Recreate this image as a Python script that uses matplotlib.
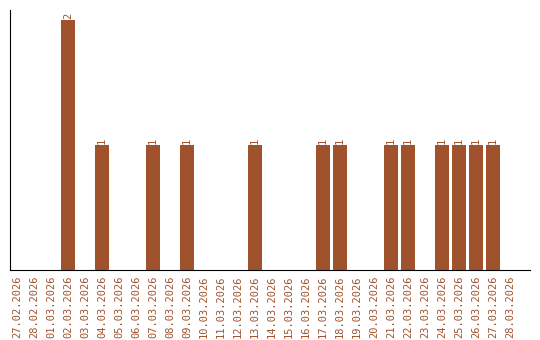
import matplotlib
matplotlib.use("Agg")
import matplotlib.pyplot as plt

dates = ["27.02.2026", "28.02.2026", "01.03.2026", "02.03.2026", "03.03.2026",
         "04.03.2026", "05.03.2026", "06.03.2026", "07.03.2026", "08.03.2026",
         "09.03.2026", "10.03.2026", "11.03.2026", "12.03.2026", "13.03.2026",
         "14.03.2026", "15.03.2026", "16.03.2026", "17.03.2026", "18.03.2026",
         "19.03.2026", "20.03.2026", "21.03.2026", "22.03.2026", "23.03.2026",
         "24.03.2026", "25.03.2026", "26.03.2026", "27.03.2026", "28.03.2026"]
counts = [0, 0, 0, 2, 0, 1, 0, 0, 1, 0, 1, 0, 0, 0, 1,
          0, 0, 0, 1, 1, 0, 0, 1, 1, 0, 1, 1, 1, 1, 0]

color = "#A0522D"

fig = plt.figure(figsize=(5.4, 3.4), dpi=100)
ax = fig.add_axes([0.0185, 0.206, 0.963, 0.764])

x = list(range(len(dates)))
ax.bar(x, counts, width=0.82, color=color)

for i, c in enumerate(counts):
    if c > 0:
        ax.text(i, c + 0.01, str(c), rotation=90, ha="center", va="bottom",
                color=color, fontsize=7.5, family="DejaVu Sans Mono")

ax.set_xlim(-0.42, 30.17)
ax.set_ylim(0, 2.08)
ax.set_xticks(x)
ax.set_xticklabels(dates, rotation=90, color=color, fontsize=7.5,
                   family="DejaVu Sans Mono")
ax.tick_params(axis="x", length=0, pad=4)
ax.set_yticks([])
ax.spines["top"].set_visible(False)
ax.spines["right"].set_visible(False)

fig.savefig("out.png", dpi=100)
plt.close(fig)
